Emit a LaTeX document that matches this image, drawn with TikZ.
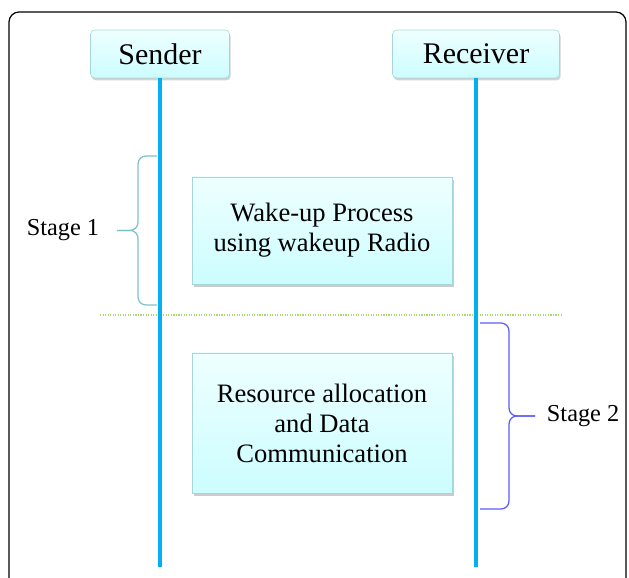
\documentclass[tikz,border=0pt]{standalone}
\usepackage{fontspec}
\setmainfont{Liberation Serif}
\usepackage{tikz}
\definecolor{lifeblue}{HTML}{00B0F0}
\definecolor{boxtop}{HTML}{EEFFFF}
\definecolor{boxbottom}{HTML}{CCFDFF}
\definecolor{boxedge}{HTML}{A6D6DA}
\definecolor{stageteal}{HTML}{7CC3C9}
\definecolor{stageblue}{HTML}{5A5AFF}
\definecolor{divgreen}{HTML}{A8DA70}
\usetikzlibrary{positioning, shadows}

\begin{document}
\begin{tikzpicture}
                \tikzstyle{every node}=[font=\fontsize{17.3}{20}\selectfont]
                \tikzstyle{party} = [draw=boxedge, rounded corners=3pt, top color=boxtop, bottom color=boxbottom, minimum height=1.2cm, font=\fontsize{21.3}{24}\selectfont, drop shadow={shadow xshift=0.03cm, shadow yshift=-0.06cm, opacity=0.35}]
                \tikzstyle{process} = [draw=boxedge, top color=boxtop, bottom color=boxbottom, minimum width=6.5cm, align=center, font=\fontsize{18.9}{21.3}\selectfont, drop shadow={shadow xshift=0.04cm, shadow yshift=-0.07cm, opacity=0.4}]
                \tikzstyle{lifeline} = [lifeblue, line width=3.2pt]
                \tikzstyle{divider} = [divgreen, densely dotted, line width=0.8pt]
                \tikzstyle{stagebrace} = [rounded corners=0.2cm, line width=0.9pt]
                \tikzstyle{hidden} = [draw=none]

                \useasboundingbox (0,0) rectangle (15.725,14.425);

                % outer frame
                \draw[rounded corners=0.25cm, line width=0.9pt] (0.225,-0.5) rectangle (15.65,14.125);

                \node[party, minimum width=3.475cm](send) at (4.0,13.075) {Sender};
                \node[party, minimum width=4.175cm](recv) at (11.9,13.075) {Receiver};

                \node[process, minimum height=2.675cm](wake) at (8.05,8.6625) {Wake-up Process\\using wakeup Radio};
                \node[process, minimum height=3.5cm](data) at (8.05,3.85) {Resource allocation\\and Data\\Communication};

                % stage divider
                \coordinate (d1) at (2.5,6.55);
                \coordinate (d2) at (14.05,6.55);
                \draw[divider] (d1) -- (d2);

                % lifelines
                \coordinate (sendend) at (4.0,0.25);
                \coordinate (recvend) at (11.9,0.25);
                \draw[lifeline] (send.south) -- (sendend);
                \draw[lifeline] (recv.south) -- (recvend);

                % stage 1 brace
                \coordinate (b1) at (3.925,6.8);
                \coordinate (b2) at (3.925,10.525);
                \coordinate (t1) at (2.925,8.665);
                \draw[stagebrace, stageteal] (b2) -- (3.45,10.525) -- (3.45,8.665) -- (t1);
                \draw[stagebrace, stageteal] (b1) -- (3.45,6.8) -- (3.45,8.665) -- (t1);
                \node[hidden, anchor=east](s1) at (2.6,8.665) {Stage 1};

                % stage 2 brace
                \coordinate (b3) at (12.0,6.35);
                \coordinate (b4) at (12.0,1.7);
                \coordinate (t2) at (13.375,4.025);
                \draw[stagebrace, stageblue] (b3) -- (12.725,6.35) -- (12.725,4.025) -- (t2);
                \draw[stagebrace, stageblue] (b4) -- (12.725,1.7) -- (12.725,4.025) -- (t2);
                \node[hidden, anchor=west](s2) at (13.55,4.025) {Stage 2};

\end{tikzpicture}
\end{document}
